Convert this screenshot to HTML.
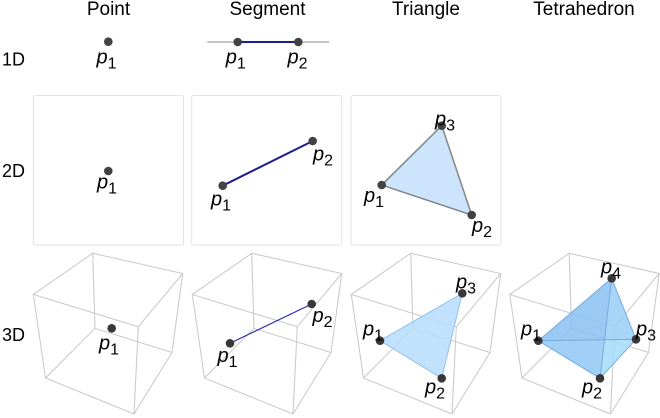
<!DOCTYPE html>
<html>
<head>
<meta charset="utf-8">
<style>
  html,body{margin:0;padding:0;background:#fff;}
  svg{display:block;}
  text{font-family:"Liberation Sans", Arial, sans-serif;fill:#000;}
  .hd{font-size:19px;text-anchor:middle;}
  .rl{font-size:18px;}
  .lb{font-size:20px;font-style:italic;text-anchor:middle;}
  .lb tspan{font-style:normal;font-size:16px;}
</style>
</head>
<body>
<svg width="660" height="418" viewBox="0 0 660 418" xmlns="http://www.w3.org/2000/svg">
  <defs>
    <path id="cube" d="M92.7 253.3 L182.7 273.5 L138.3 326.7 L33.3 294.5 Z M95 328.3 L172 352.5 L134 414 L45.5 378 Z M92.7 253.3 L95 328.3 M182.7 273.5 L172 352.5 M138.3 326.7 L134 414 M33.3 294.5 L45.5 378" fill="none" stroke="#c8c8c8" stroke-width="1"/>
  </defs>

  <!-- headers -->
  <text class="hd" x="108.5" y="15">Point</text>
  <text class="hd" x="267.5" y="15">Segment</text>
  <text class="hd" x="426" y="15">Triangle</text>
  <text class="hd" x="584" y="15">Tetrahedron</text>

  <!-- row labels -->
  <text class="rl" x="2" y="65.5">1D</text>
  <text class="rl" x="2" y="177">2D</text>
  <text class="rl" x="2" y="341">3D</text>

  <!-- 1D -->
  <circle cx="108.3" cy="41.7" r="4.3" fill="#424242"/>
  <text class="lb" x="106.5" y="63.7">p<tspan dy="5">1</tspan></text>

  <line x1="207.3" y1="42" x2="329.3" y2="42" stroke="#b4b4b4" stroke-width="1.5"/>
  <line x1="237.7" y1="42" x2="298.3" y2="42" stroke="#1c1c94" stroke-width="2"/>
  <circle cx="237.7" cy="42" r="4.3" fill="#424242"/>
  <circle cx="298.3" cy="42" r="4.3" fill="#424242"/>
  <text class="lb" x="235.8" y="63.7">p<tspan dy="5">1</tspan></text>
  <text class="lb" x="297.5" y="63.7">p<tspan dy="5">2</tspan></text>

  <!-- 2D panels -->
  <rect x="33.5" y="95.5" width="150" height="149.5" rx="2" fill="#fff" stroke="#e3e3e3" stroke-width="1"/>
  <rect x="191.7" y="95.5" width="150" height="149.5" rx="2" fill="#fff" stroke="#e3e3e3" stroke-width="1"/>
  <rect x="351" y="95.5" width="150" height="149.5" rx="2" fill="#fff" stroke="#e3e3e3" stroke-width="1"/>

  <circle cx="108.3" cy="171" r="4.3" fill="#424242"/>
  <text class="lb" x="107" y="188.5">p<tspan dy="5">1</tspan></text>

  <line x1="222.7" y1="185.7" x2="312.7" y2="141" stroke="#1c1c94" stroke-width="2"/>
  <circle cx="222.7" cy="185.7" r="4.3" fill="#424242"/>
  <circle cx="312.7" cy="141" r="4.3" fill="#424242"/>
  <text class="lb" x="221" y="205.4">p<tspan dy="5">1</tspan></text>
  <text class="lb" x="323" y="160.4">p<tspan dy="5">2</tspan></text>

  <polygon points="381.7,185 471.7,215 441.7,125.7" fill="#cce5fc" stroke="#8a8a8a" stroke-width="1.6" stroke-linejoin="round"/>
  <circle cx="381.7" cy="185" r="4.3" fill="#424242"/>
  <circle cx="471.7" cy="215" r="4.3" fill="#424242"/>
  <circle cx="441.7" cy="125.7" r="4.3" fill="#424242"/>
  <text class="lb" x="374" y="202">p<tspan dy="5">1</tspan></text>
  <text class="lb" x="482" y="232">p<tspan dy="5">2</tspan></text>
  <text class="lb" x="445" y="125.4">p<tspan dy="5">3</tspan></text>

  <!-- 3D cubes -->
  <use href="#cube"/>
  <use href="#cube" transform="translate(159,0)"/>
  <use href="#cube" transform="translate(318,0)"/>
  <use href="#cube" transform="translate(476.5,0)"/>

  <!-- 3D point -->
  <circle cx="111.7" cy="328.3" r="4.3" fill="#383838"/>
  <text class="lb" x="109" y="349.7">p<tspan dy="5">1</tspan></text>

  <!-- 3D segment -->
  <line x1="230" y1="343.3" x2="311.7" y2="304" stroke="#2828b0" stroke-width="1.1"/>
  <circle cx="230" cy="343.3" r="4.3" fill="#383838"/>
  <circle cx="311.7" cy="304" r="4.3" fill="#383838"/>
  <text class="lb" x="227.5" y="362">p<tspan dy="5">1</tspan></text>
  <text class="lb" x="322.5" y="322">p<tspan dy="5">2</tspan></text>

  <!-- 3D triangle -->
  <polygon points="380,340.7 441.7,378.3 462.3,293.3" fill="#b6dcfb" fill-opacity="0.85" stroke="#8fc3ee" stroke-width="1" stroke-linejoin="round"/>
  <circle cx="380" cy="340.7" r="4.3" fill="#383838"/>
  <circle cx="441.7" cy="378.3" r="4.3" fill="#383838"/>
  <circle cx="462.3" cy="293.3" r="4.3" fill="#383838"/>
  <text class="lb" x="373" y="335.4">p<tspan dy="5">1</tspan></text>
  <text class="lb" x="435" y="393.7">p<tspan dy="5">2</tspan></text>
  <text class="lb" x="466" y="288.7">p<tspan dy="5">3</tspan></text>

  <!-- tetrahedron -->
  <g fill-opacity="0.88" stroke="none">
    <polygon points="538.3,340.7 611.7,278.3 605.4,340" fill="#8cc2f2"/>
    <polygon points="611.7,278.3 636,339.3 605.4,340" fill="#9bcff7"/>
    <polygon points="538.3,340.7 605.4,340 600,378.3" fill="#94c9f5"/>
    <polygon points="605.4,340 636,339.3 600,378.3" fill="#a6dcfa"/>
  </g>
  <g fill="none" stroke="#74abde" stroke-width="1" stroke-linejoin="round">
    <polygon points="538.3,340.7 611.7,278.3 636,339.3 600,378.3"/>
    <line x1="538.3" y1="340.7" x2="636" y2="339.3"/>
    <line x1="611.7" y1="278.3" x2="600" y2="378.3"/>
  </g>
  <circle cx="538.3" cy="340.7" r="4.3" fill="#383838"/>
  <circle cx="600" cy="378.3" r="4.3" fill="#383838"/>
  <circle cx="636" cy="339.3" r="4.3" fill="#383838"/>
  <circle cx="611.7" cy="278.3" r="4.3" fill="#383838"/>
  <text class="lb" x="531" y="335.4">p<tspan dy="5">1</tspan></text>
  <text class="lb" x="592" y="393.7">p<tspan dy="5">2</tspan></text>
  <text class="lb" x="646" y="335.4">p<tspan dy="5">3</tspan></text>
  <text class="lb" x="611" y="273.7">p<tspan dy="5">4</tspan></text>
</svg>
</body>
</html>
